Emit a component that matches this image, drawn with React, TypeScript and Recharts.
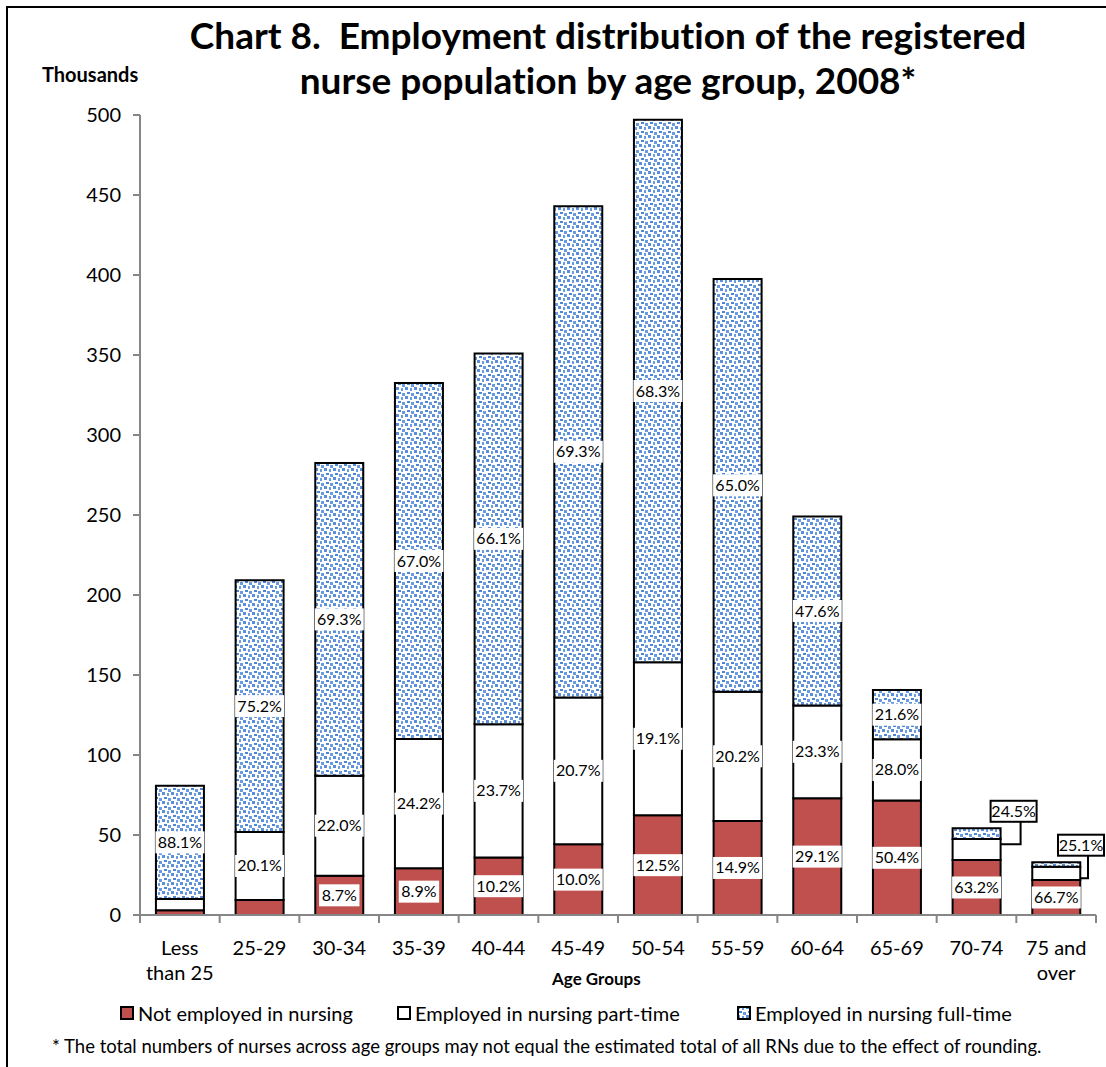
import React from 'react';
import { BarChart, Bar, XAxis, YAxis, LabelList } from 'recharts';

// age groups on the x axis
const ageGroups = ['Less than 25', '25-29', '30-34', '35-39', '40-44', '45-49', '50-54', '55-59', '60-64', '65-69', '70-74', '75 and over'];

// thousands of nurses
const notEmployed = [3, 9.4, 24.6, 29.2, 36, 44.2, 62.3, 58.8, 73, 71.5, 34.4, 21.9];
const partTime = [7, 42.5, 62.4, 80.8, 83.2, 91.8, 95.7, 80.8, 58, 38.3, 13.1, 8.3];
const fullTime = [70.8, 157.3, 195.5, 222.5, 231.8, 307, 339, 257.9, 118, 30.8, 6.7, 2.8];

// percent labels shown on the bars
const notEmployedPct = [null, null, '8.7%', '8.9%', '10.2%', '10.0%', '12.5%', '14.9%', '29.1%', '50.4%', '63.2%', '66.7%'];
const partTimePct = [null, '20.1%', '22.0%', '24.2%', '23.7%', '20.7%', '19.1%', '20.2%', '23.3%', '28.0%', null, null];
const fullTimePct = ['88.1%', '75.2%', '69.3%', '67.0%', '66.1%', '69.3%', '68.3%', '65.0%', '47.6%', '21.6%', '24.5%', '25.1%'];

const yTicks = [0, 50, 100, 150, 200, 250, 300, 350, 400, 450, 500];

const data = ageGroups.map((group, i) => ({
    group,
    notEmployed: notEmployed[i],
    partTime: partTime[i],
    fullTime: fullTime[i],
    neLabel: notEmployedPct[i],
    ptLabel: partTimePct[i],
    ftLabel: fullTimePct[i],
}));

const FONT = 'Lato, "Open Sans", sans-serif';
const RED = '#C0504D';
const AXIS = '#868686';
const PLOT_LEFT = 140;
const PLOT_RIGHT = 1096;
const BAND = (PLOT_RIGHT - PLOT_LEFT) / ageGroups.length;

// white box label in the middle of a segment
const BoxLabel = (props: any) => {
    const { x, y, width, height, value } = props;
    if (!value) return null;
    const cx = x + width / 2;
    const cy = y + height / 2;
    const w = String(value).length * 8.6 + 6;
    const h = 22;
    return (
        <g>
            <rect x={cx - w / 2} y={cy - h / 2} width={w} height={h} fill="#fff" />
            <text x={cx} y={cy + 5.5} textAnchor="middle" fontSize={16} fontFamily={FONT} fill="#000">{value}</text>
        </g>
    );
};

// full-time labels: the two small bars get a callout box with a leader line
const FullTimeLabel = (props: any) => {
    const { x, y, width, index, value } = props;
    if (index < 10) return <BoxLabel {...props} />;
    const w = 46;
    const h = 21;
    const bx = Math.min(x + width / 2 + 37, 1106 - w / 2 - 2);
    const by = y - 17;
    return (
        <g>
            <path d={`M${x + width} ${y + 16} H${bx + 7} V${by + h / 2}`} fill="none" stroke="#000" strokeWidth={2} />
            <rect x={bx - w / 2} y={by - h / 2} width={w} height={h} fill="#fff" stroke="#000" strokeWidth={2} />
            <text x={bx} y={by + 5.5} textAnchor="middle" fontSize={16} fontFamily={FONT} fill="#000">{value}</text>
        </g>
    );
};

const XTick = (props: any) => {
    const { x, y, payload, index } = props;
    const v = payload.value as string;
    const lines = v === 'Less than 25' ? ['Less', 'than 25'] : v === '75 and over' ? ['75 and', 'over'] : [v];
    return (
        <g>
            {index === 0 && <line x1={x - BAND / 2} x2={x - BAND / 2} y1={y} y2={y + 8} stroke={AXIS} strokeWidth={2} />}
            <line x1={x + BAND / 2} x2={x + BAND / 2} y1={y} y2={y + 8} stroke={AXIS} strokeWidth={2} />
            {lines.map((l, i) => (
                <text key={i} x={x} y={y + 40 + i * 25} textAnchor="middle" fontSize={20} fontFamily={FONT} fill="#000">{l}</text>
            ))}
        </g>
    );
};

const LegendItem = ({ fill, label, left }: { fill: string; label: string; left: number }) => (
    <div style={{ position: 'absolute', left, top: 1001, display: 'flex', alignItems: 'center', fontSize: 20, fontFamily: FONT }}>
        <svg width={14} height={14} style={{ marginRight: 4 }}>
            <rect x={1} y={1} width={12} height={12} fill={fill} stroke="#000" strokeWidth={2} />
        </svg>
        <span>{label}</span>
    </div>
);

export default function App() {
    return (
        <div style={{ position: 'absolute', left: 0, top: 0, width: 1106, height: 1067, overflow: 'hidden', background: '#fff', fontFamily: FONT }}>
            <svg width={0} height={0} style={{ position: 'absolute' }}>
                <defs>
                    <pattern id="confetti" width={9} height={9} patternUnits="userSpaceOnUse">
                        <rect width={9} height={9} fill="#fff" />
                        <rect x={0} y={0} width={3} height={3} fill="#5B8FD9" />
                        <rect x={5} y={1} width={2} height={3} fill="#6C9CE0" />
                        <rect x={2} y={5} width={3} height={2} fill="#4F86D4" />
                        <rect x={6} y={6} width={3} height={3} fill="#6A9BDE" />
                    </pattern>
                </defs>
            </svg>
            <div style={{ position: 'absolute', left: 6, top: 6, width: 1200, height: 1200, border: '2px solid #000' }} />
            <div style={{ position: 'absolute', left: 100, width: 1016, top: 12, textAlign: 'center', fontWeight: 700, fontSize: 37, lineHeight: '45px', fontVariantLigatures: 'none' }}>
                Chart 8.&nbsp; Employment distribution of the registered<br />nurse population by age group, 2008*
            </div>
            <div style={{ position: 'absolute', left: 42, top: 62, fontWeight: 700, fontSize: 20 }}>Thousands</div>
            <BarChart
                width={1106}
                height={1067}
                data={data}
                margin={{ top: 115, right: 1106 - PLOT_RIGHT, bottom: 92, left: 0 }}
                barCategoryGap="20%"
                style={{ position: 'absolute', left: 0, top: 0 }}
            >
                <XAxis dataKey="group" height={60} tickLine={false} tickSize={0} tickMargin={0} interval={0} axisLine={{ stroke: AXIS, strokeWidth: 2 }} tick={<XTick />} />
                <YAxis width={PLOT_LEFT} domain={[0, 500]} ticks={yTicks} interval={0} tickSize={7} tickMargin={12} axisLine={{ stroke: AXIS, strokeWidth: 2 }} tickLine={{ stroke: AXIS, strokeWidth: 2 }} tick={{ fill: '#000', fontSize: 20, fontFamily: FONT }} />
                <Bar dataKey="notEmployed" stackId="a" fill={RED} stroke="#000" strokeWidth={2} isAnimationActive={false}>
                    <LabelList dataKey="neLabel" content={<BoxLabel />} />
                </Bar>
                <Bar dataKey="partTime" stackId="a" fill="#fff" stroke="#000" strokeWidth={2} isAnimationActive={false}>
                    <LabelList dataKey="ptLabel" content={<BoxLabel />} />
                </Bar>
                <Bar dataKey="fullTime" stackId="a" fill="url(#confetti)" stroke="#000" strokeWidth={2} isAnimationActive={false}>
                    <LabelList dataKey="ftLabel" content={<FullTimeLabel />} />
                </Bar>
            </BarChart>
            <div style={{ position: 'absolute', left: 552, top: 968, fontWeight: 700, fontSize: 17 }}>Age Groups</div>
            <LegendItem fill={RED} label="Not employed in nursing" left={120} />
            <LegendItem fill="#fff" label="Employed in nursing part-time" left={397} />
            <LegendItem fill="url(#confetti)" label="Employed in nursing full-time" left={737} />
            <div style={{ position: 'absolute', left: 52, top: 1035, fontSize: 18.5 }}>
                * The total numbers of nurses across age groups may not equal the estimated total of all RNs due to the effect of rounding.
            </div>
        </div>
    );
}
